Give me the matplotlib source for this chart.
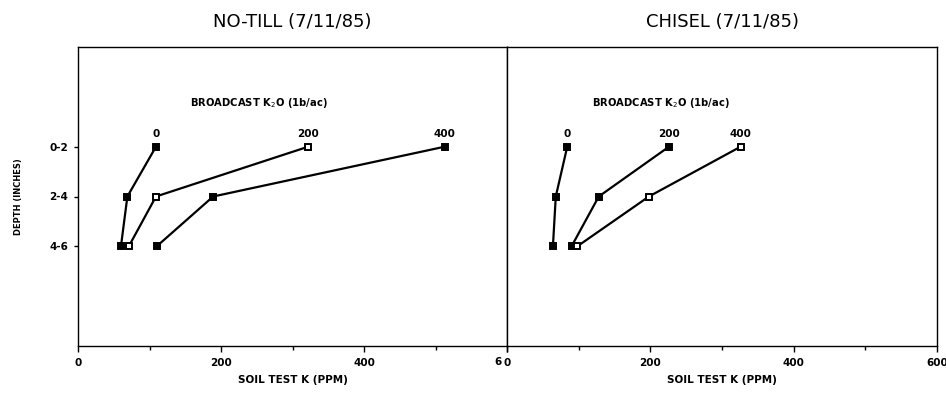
import numpy as np
import matplotlib
matplotlib.use('Agg')
import matplotlib.pyplot as plt

# depth mid-points (inches) and their labels
depth = [1, 3, 5]
depth_labels = ['0-2', '2-4', '4-6']
rates = ['0', '200', '400']

# soil test K (ppm) per broadcast rate
notill_0 = [109, 69, 60]
notill_200 = [322, 109, 71]
notill_400 = [513, 189, 110]
chisel_0 = [84, 68, 64]
chisel_200 = [226, 128, 90]
chisel_400 = [326, 198, 98]

xticks = [0, 200, 400, 600]
xminor = [100, 300, 500]

fig = plt.figure(figsize=(9.46, 3.93), dpi=100)
ax1 = fig.add_axes([0.0825, 0.1196, 0.4535, 0.7608])
ax2 = fig.add_axes([0.536, 0.1196, 0.4545, 0.7608])

panels = [
    (ax1, 'NO-TILL (7/11/85)', [notill_0, notill_200, notill_400], ['k', 'w', 'k'], 157),
    (ax2, 'CHISEL (7/11/85)', [chisel_0, chisel_200, chisel_400], ['k', 'k', 'w'], 119),
]

for ax, title, series, faces, legx in panels:
    for vals, rate, fc in zip(series, rates, faces):
        ax.plot(vals, depth, color='k', lw=1.6, marker='s', ms=4.5,
                mfc=fc, mec='k', mew=1.4)
        ax.text(vals[0], depth[0] - 0.3, rate, ha='center', va='bottom',
                fontsize=7.5, fontweight='bold')
    ax.text(legx, -0.75, r'BROADCAST K$_2$O (1b/ac)', fontsize=7.2,
            fontweight='bold', va='center')
    ax.set_xlim(0, 600)
    ax.set_ylim(9, -3)
    ax.set_xticks(xticks)
    ax.set_xticks(xminor, minor=True)
    ax.tick_params(axis='x', direction='out', length=4, width=1,
                   labelsize=7.5, pad=5)
    ax.tick_params(axis='x', which='minor', direction='out', length=3, width=1)
    for lbl in ax.get_xticklabels():
        lbl.set_fontweight('bold')
    ax.set_xlabel('SOIL TEST K (PPM)', fontsize=7.5, fontweight='bold', labelpad=5)
    for sp in ax.spines.values():
        sp.set_linewidth(1.0)
    fig.text((ax.get_position().x0 + ax.get_position().x1) / 2, 0.945, title,
             ha='center', va='center', fontsize=13)

ax1.set_yticks(depth)
ax1.set_yticklabels(depth_labels, fontsize=7.5, fontweight='bold')
ax1.tick_params(axis='y', direction='out', length=3, width=1, pad=4)
ax1.set_ylabel('DEPTH (INCHES)', fontsize=6, fontweight='bold', labelpad=19)
ax2.set_yticks([])

# left panel's 600 label is partly hidden under the right panel's 0
ax1.set_xticklabels(['0', '200', '400', ''])
ax1.text(592, -0.0535, '6', transform=ax1.get_xaxis_transform(),
         ha='right', va='center', fontsize=7.5, fontweight='bold')

fig.savefig('out.png', dpi=100)
